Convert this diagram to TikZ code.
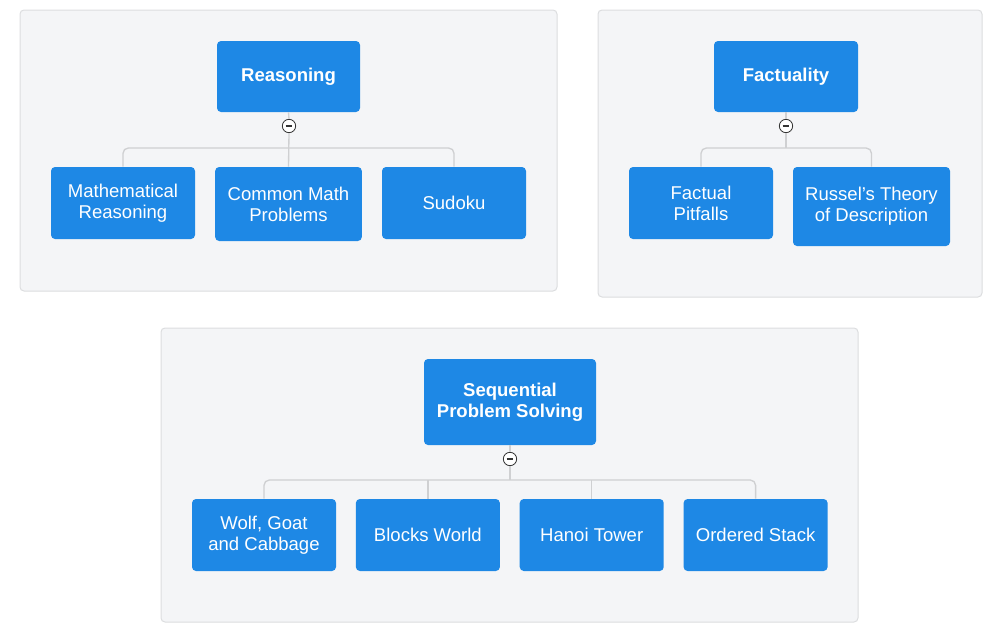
\documentclass[tikz,border=0pt]{standalone}
\usepackage{fontspec}
\setmainfont{Liberation Sans}
\usetikzlibrary{positioning}
\definecolor{nodeblue}{HTML}{1E88E5}
\definecolor{groupbg}{HTML}{F4F5F7}
\definecolor{groupline}{HTML}{DCDDDF}
\definecolor{busline}{HTML}{CFD0D2}
\tikzset{
    group/.style={draw=groupline, fill=groupbg, rounded corners=3pt, line width=0.75pt},
    topic/.style={fill=nodeblue, text=white, rounded corners=3pt, align=center,
        inner sep=0pt, font=\fontsize{13.9}{15.8}\selectfont\bfseries},
    leaf/.style={fill=nodeblue, text=white, rounded corners=3pt, align=center,
        inner sep=0pt, minimum width=108pt, minimum height=54pt,
        font=\fontsize{13.9}{15.8}\selectfont},
    toggle/.style={circle, draw=black!80, fill=white, line width=0.6pt, minimum size=10pt, inner sep=0pt,
        path picture={\draw[line width=0.8pt] ([xshift=-2.6pt]path picture bounding box.center) -- ([xshift=2.6pt]path picture bounding box.center);}},
    conn/.style={draw=busline, line width=1pt, rounded corners=4pt},
}
\begin{document}
\begin{tikzpicture}[x=0.75pt, y=-0.75pt]
    \useasboundingbox (0,0) rectangle (997,632);
    % groups
    \draw[group] (20,10) rectangle (557,291);
    \draw[group] (598,10) rectangle (982,297);
    \draw[group] (161,328) rectangle (858,622);

    % reasoning
    \node[topic, minimum width=107.25pt, minimum height=53.25pt] (reas) at (288.5,76.5) {Reasoning};
    \node[leaf] (mathr) at (123,203) {Mathematical\\Reasoning};
    \node[leaf, minimum width=110pt, minimum height=55.5pt] (cmath) at (288.5,204) {Common Math\\Problems};
    \node[leaf] (sudoku) at (454,203) {Sudoku};
    \node[toggle] (reastg) at (289,126) {};
    \coordinate (reasbus) at (289,148);
    \draw[conn] (reas.south) -- (reastg.north);
    \draw[conn] (reastg.south) -- (cmath.north);
    \draw[conn] (mathr.north) |- (reasbus) -| (sudoku.north);

    % factuality
    \node[topic, minimum width=108pt, minimum height=53.25pt] (fact) at (786,76.5) {Factuality};
    \node[leaf] (pitf) at (701,203) {Factual\\Pitfalls};
    \node[leaf, minimum width=117.75pt, minimum height=59.25pt] (russ) at (871.5,206.5) {Russel's Theory\\of Description};
    \node[toggle] (facttg) at (786,126) {};
    \coordinate (factbus) at (786,148);
    \draw[conn] (fact.south) -- (facttg.north);
    \draw[conn] (facttg.south) -- (factbus);
    \draw[conn] (pitf.north) |- (factbus) -| (russ.north);

    % sequential problem solving
    \node[topic, minimum width=129pt, minimum height=64.5pt] (seq) at (510,402) {Sequential\\Problem Solving};
    \node[leaf] (wolf) at (264,535) {Wolf, Goat\\and Cabbage};
    \node[leaf, right=14.5pt of wolf] (blocks) {Blocks World};
    \node[leaf, right=14.5pt of blocks] (hanoi) {Hanoi Tower};
    \node[leaf, right=14.5pt of hanoi] (stack) {Ordered Stack};
    \node[toggle] (seqtg) at (510,459) {};
    \coordinate (seqbus) at (510,480);
    \draw[conn] (seq.south) -- (seqtg.north);
    \draw[conn] (seqtg.south) -- (seqbus);
    \draw[conn] (wolf.north) |- (seqbus) -| (stack.north);
    \draw[conn] (blocks.north) -- (blocks.north |- seqbus);
    \draw[conn] (hanoi.north) -- (hanoi.north |- seqbus);
\end{tikzpicture}
\end{document}
